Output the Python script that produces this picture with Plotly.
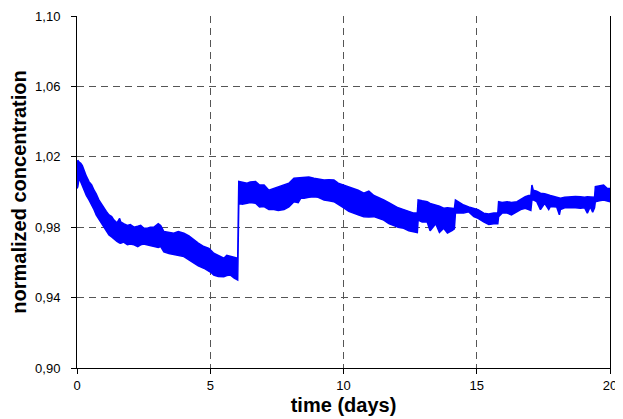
import plotly.graph_objects as go

# time (days)
t = [0.00, 0.03, 0.08, 0.14, 0.20, 0.26, 0.35, 0.45, 0.55, 0.64, 0.72, 0.82, 0.92, 1.01,
     1.10, 1.20, 1.30, 1.39, 1.50, 1.60, 1.64, 1.75, 1.89, 2.00, 2.14, 2.28, 2.39, 2.50,
     2.64, 2.75, 2.89, 3.05, 3.14, 3.26, 3.45, 3.63, 3.80, 4.01, 4.20, 4.38, 4.55, 4.76,
     4.95, 5.05, 5.13, 5.30, 5.51, 5.62, 5.76, 5.90, 6.03, 6.07, 6.20, 6.38, 6.50, 6.70,
     6.85, 7.02, 7.20, 7.39, 7.55, 7.77, 7.95, 8.14, 8.30, 8.40, 8.52, 8.70, 8.89, 9.05,
     9.27, 9.45, 9.64, 9.80, 10.01, 10.20, 10.39, 10.55, 10.76, 10.95, 11.14, 11.30,
     11.51, 11.70, 11.89, 12.05, 12.26, 12.45, 12.64, 12.77, 12.80, 12.95, 13.14, 13.25,
     13.46, 13.60, 13.76, 13.90, 14.07, 14.16, 14.20, 14.35, 14.51, 14.70, 14.89, 15.05,
     15.26, 15.45, 15.64, 15.79, 15.82, 15.95, 16.14, 16.30, 16.51, 16.65, 16.82, 16.95,
     17.03, 17.07, 17.12, 17.25, 17.39, 17.55, 17.70, 17.76, 18.00, 18.10, 18.14, 18.30,
     18.51, 18.70, 18.89, 19.05, 19.15, 19.26, 19.35, 19.42, 19.45, 19.60, 19.76, 19.90,
     20.00]

# upper envelope of the noisy normalized concentration signal
upper = [1.012, 1.018, 1.017, 1.0163, 1.015, 1.0125, 1.009, 1.0059, 1.004, 1.001, 0.999,
         0.9955, 0.993, 0.9908, 0.989, 0.987, 0.986, 0.984, 0.9825, 0.985, 0.983, 0.982,
         0.981, 0.9815, 0.980, 0.9805, 0.981, 0.9795, 0.9794, 0.980, 0.980, 0.982, 0.981,
         0.9775, 0.977, 0.9766, 0.9775, 0.9766, 0.975, 0.9727, 0.971, 0.969, 0.968, 0.9665,
         0.9652, 0.964, 0.9624, 0.964, 0.9633, 0.963, 0.9624, 1.006, 1.0055, 1.005, 1.0057,
         1.006, 1.004, 1.004, 1.001, 1.002, 1.003, 1.004, 1.005, 1.0078, 1.008, 1.0085,
         1.0087, 1.0085, 1.0078, 1.0075, 1.0068, 1.007, 1.0068, 1.005, 1.004, 1.003, 1.002,
         1.001, 0.9993, 1.0005, 0.998, 0.997, 0.9955, 0.994, 0.9926, 0.991, 0.990, 0.989,
         0.988, 0.988, 0.9955, 0.995, 0.9945, 0.9935, 0.9926, 0.992, 0.9908, 0.991, 0.9908,
         0.9905, 0.9955, 0.994, 0.9926, 0.9915, 0.9908, 0.990, 0.988, 0.9875, 0.988, 0.988,
         0.9945, 0.994, 0.9945, 0.994, 0.9945, 0.996, 0.9973, 0.998, 0.998, 1.004, 1.001,
         1.0005, 0.9993, 0.999, 0.998, 0.998, 0.997, 0.9964, 0.9964, 0.997, 0.9973, 0.9975,
         0.9973, 0.997, 0.9973, 0.9973, 0.997, 0.997, 1.003, 1.0035, 1.004, 1.002, 1.002]

# lower envelope
lower = [1.002, 1.003, 1.008, 1.005, 1.003, 1.001, 0.998, 0.9955, 0.993, 0.990, 0.987,
         0.984, 0.982, 0.9794, 0.978, 0.9756, 0.9745, 0.9737, 0.972, 0.971, 0.9709, 0.9715,
         0.970, 0.9705, 0.970, 0.969, 0.970, 0.9705, 0.970, 0.9695, 0.969, 0.9685, 0.969,
         0.966, 0.965, 0.9642, 0.964, 0.9633, 0.9615, 0.9595, 0.958, 0.9567, 0.955, 0.954,
         0.9528, 0.952, 0.9519, 0.9525, 0.9528, 0.951, 0.950, 0.9936, 0.993, 0.9936, 0.994,
         0.9936, 0.9915, 0.9917, 0.990, 0.990, 0.9895, 0.990, 0.9915, 0.9945, 0.994, 0.9965,
         0.9964, 0.997, 0.9973, 0.997, 0.9955, 0.995, 0.9945, 0.993, 0.991, 0.989, 0.988,
         0.987, 0.986, 0.9858, 0.986, 0.985, 0.984, 0.982, 0.981, 0.980, 0.9794, 0.978,
         0.9775, 0.977, 0.984, 0.983, 0.983, 0.978, 0.982, 0.977, 0.9794, 0.9767, 0.978,
         0.979, 0.988, 0.988, 0.988, 0.9887, 0.986, 0.985, 0.983, 0.9815, 0.982, 0.982,
         0.986, 0.988, 0.988, 0.987, 0.9888, 0.990, 0.9908, 0.990, 0.9895, 0.9955, 0.9955,
         0.9945, 0.990, 0.9935, 0.990, 0.9917, 0.9915, 0.987, 0.990, 0.991, 0.9908, 0.991,
         0.9908, 0.991, 0.988, 0.9917, 0.9885, 0.991, 0.9945, 0.995, 0.9955, 0.995, 0.9945]

x_ticks = [0, 5, 10, 15, 20]
y_ticks = [0.90, 0.94, 0.98, 1.02, 1.06, 1.10]

band_x = t + t[::-1]
band_y = upper + lower[::-1]

fig = go.Figure()
fig.add_trace(go.Scatter(
    x=band_x, y=band_y, mode="lines", fill="toself",
    fillcolor="#0000FF", line=dict(color="#0000FF", width=1.5),
    hoverinfo="skip", showlegend=False))

grid = dict(showgrid=True, gridcolor="#555555", gridwidth=1, griddash="7px,5px")

# page body has an 8px margin, so the figure is sized to fit inside 623x419
fig.update_layout(
    width=615, height=411,
    margin=dict(l=69, r=13, t=8, b=51),
    paper_bgcolor="white", plot_bgcolor="white",
    separators=", ",
    font=dict(family="Liberation Sans, Arial, sans-serif", color="black", size=13),
    showlegend=False,
    xaxis=dict(range=[0, 20], tickvals=x_ticks, ticktext=[str(v) for v in x_ticks],
               showline=True, linecolor="black", linewidth=1, mirror=False,
               ticks="outside", ticklen=5, tickcolor="black",
               zeroline=False, automargin=False, **grid,
               title=dict(text="<b>time (days)</b>", font=dict(size=20), standoff=6)),
    yaxis=dict(range=[0.90, 1.10], tickvals=y_ticks, tickformat=".2f",
               showline=True, linecolor="black", linewidth=1, mirror=True,
               ticks="outside", ticklen=5, tickcolor="black", ticklabelstandoff=8,
               zeroline=False, automargin=False, **grid,
               title=dict(text="<b>normalized concentration</b>", font=dict(size=20), standoff=4)),
)

fig.write_html("out.html")
